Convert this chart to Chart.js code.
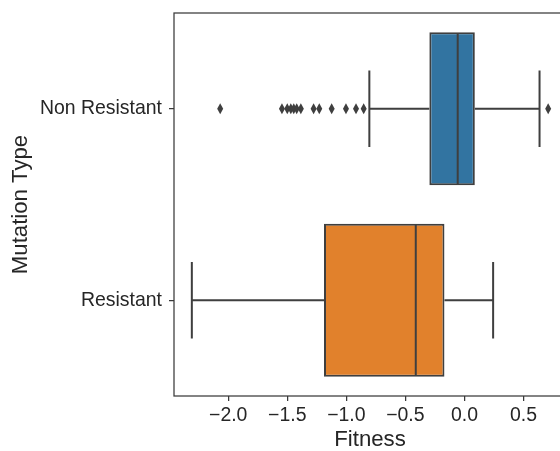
<!DOCTYPE html>
<html>
<head>
<meta charset="utf-8">
<script src="https://cdn.jsdelivr.net/npm/chart.js@4/dist/chart.umd.min.js"></script>
<style>
  html, body { margin: 0; padding: 0; background: #fff; overflow: hidden; width: 560px; height: 451px; }
  #wrap { width: 600px; height: 451px; }
</style>
</head>
<body>
<div id="wrap"><canvas id="c" width="600" height="451"></canvas></div>
<script>
// ---- data ----
const categories = ['Non Resistant', 'Resistant'];
const whiskerLow  = [-0.805, -2.308];
const q1          = [-0.297, -1.189];
const median      = [-0.057, -0.412];
const q3          = [0.088, -0.169];
const whiskerHigh = [0.636, 0.243];
const outliersNonResistant = [-2.068, -1.545, -1.50, -1.47, -1.445, -1.42, -1.385, -1.277, -1.229, -1.124, -1.003, -0.918, -0.853, 0.709];
const outliersResistant = [];
const outliers = [outliersNonResistant, outliersResistant];
const boxColors = ['#3274a1', '#e1812c'];
const xTicks = [-2.0, -1.5, -1.0, -0.5, 0.0, 0.5];
const xMin = -2.459, xMax = 0.86;

const lineColor = '#3f3f3f';
const spineColor = '#3a3a3a';
const textColor = '#262626';
const FONT = "'Liberation Sans', Arial, Helvetica, sans-serif";

const boxPlugin = {
  id: 'boxParts',
  beforeDatasetsDraw(chart) {
    const ctx = chart.ctx, xs = chart.scales.x, ys = chart.scales.y;
    const band = (ys.getPixelForValue(1) - ys.getPixelForValue(0));
    const capHalf = band * 0.2;
    ctx.save();
    ctx.strokeStyle = lineColor;
    ctx.lineWidth = 2;
    categories.forEach((c, i) => {
      const y = ys.getPixelForValue(i);
      const a = xs.getPixelForValue(whiskerLow[i]), b = xs.getPixelForValue(q1[i]);
      const d = xs.getPixelForValue(q3[i]), e = xs.getPixelForValue(whiskerHigh[i]);
      ctx.beginPath();
      ctx.moveTo(a, y); ctx.lineTo(b, y);
      ctx.moveTo(d, y); ctx.lineTo(e, y);
      ctx.moveTo(a, y - capHalf); ctx.lineTo(a, y + capHalf);
      ctx.moveTo(e, y - capHalf); ctx.lineTo(e, y + capHalf);
      ctx.stroke();
    });
    ctx.restore();
  },
  afterDatasetsDraw(chart) {
    const ctx = chart.ctx, xs = chart.scales.x, ys = chart.scales.y;
    const band = (ys.getPixelForValue(1) - ys.getPixelForValue(0));
    const boxHalf = band * 0.4;
    ctx.save();
    ctx.strokeStyle = lineColor;
    ctx.lineWidth = 2;
    categories.forEach((c, i) => {
      const y = ys.getPixelForValue(i);
      const m = xs.getPixelForValue(median[i]);
      ctx.beginPath();
      ctx.moveTo(m, y - boxHalf + 1); ctx.lineTo(m, y + boxHalf - 1);
      ctx.stroke();
      ctx.fillStyle = lineColor;
      outliers[i].forEach(v => {
        const px = xs.getPixelForValue(v);
        ctx.beginPath();
        ctx.moveTo(px, y - 5.5);
        ctx.lineTo(px + 3, y);
        ctx.lineTo(px, y + 5.5);
        ctx.lineTo(px - 3, y);
        ctx.closePath();
        ctx.fill();
      });
    });
    // frame
    const a = chart.chartArea;
    ctx.strokeStyle = spineColor;
    ctx.lineWidth = 1.25;
    ctx.strokeRect(a.left, a.top, a.right - a.left, a.bottom - a.top);
    ctx.restore();
  }
};

new Chart(document.getElementById('c'), {
  type: 'bar',
  data: {
    labels: categories,
    datasets: [{
      label: 'box',
      data: categories.map((c, i) => [q1[i], q3[i]]),
      backgroundColor: boxColors,
      borderColor: lineColor,
      borderWidth: 2,
      borderSkipped: false,
      categoryPercentage: 0.8,
      barPercentage: 1.0
    }]
  },
  plugins: [boxPlugin],
  options: {
    indexAxis: 'y',
    responsive: false,
    animation: false,
    devicePixelRatio: 1,
    layout: { padding: { left: 0, top: 13, right: 34, bottom: 0 } },
    plugins: { legend: { display: false }, tooltip: { enabled: false } },
    scales: {
      x: {
        type: 'linear',
        min: xMin, max: xMax,
        afterBuildTicks(scale) { scale.ticks = xTicks.map(v => ({ value: v })); },
        afterFit(scale) { scale.height = 55; scale.paddingLeft = 0; scale.paddingRight = 0; },
        grid: { display: true, drawOnChartArea: false, drawTicks: true, tickLength: 5, color: spineColor, lineWidth: 1.25 },
        border: { display: false },
        ticks: {
          autoSkip: false, maxRotation: 0, padding: 3,
          color: textColor,
          font: { family: FONT, size: 19.44 },
          callback: (v) => Number(v).toFixed(1).replace('-', '\u2212')
        },
        title: {
          display: true, text: 'Fitness', color: textColor,
          font: { family: FONT, size: 22.2, lineHeight: 1.0 },
          padding: { top: 0, bottom: 0 }
        }
      },
      y: {
        type: 'category',
        offset: true,
        afterFit(scale) { scale.width = 174; scale.paddingTop = 0; scale.paddingBottom = 0; },
        grid: { display: true, offset: false, drawOnChartArea: false, drawTicks: true, tickLength: 5, color: spineColor, lineWidth: 1.25 },
        border: { display: false },
        ticks: {
          padding: 7, color: textColor,
          font: { family: FONT, size: 19.44 }
        },
        title: {
          display: true, text: 'Mutation Type', color: textColor,
          font: { family: FONT, size: 22.2, lineHeight: 1.2 },
          padding: { top: 7.6, bottom: 0 }
        }
      }
    }
  }
});
</script>
</body>
</html>
